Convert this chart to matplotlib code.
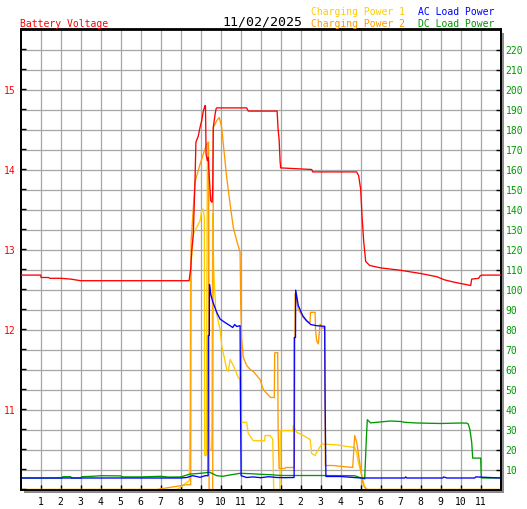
import numpy as np
import matplotlib
matplotlib.use('Agg')
import matplotlib.pyplot as plt
from matplotlib.patches import Rectangle

# ---------------- data (hours of day) ----------------
volt_t = [0, 1.0, 1.02, 1.4, 1.45, 2.0, 2.5, 3.0, 8.42, 8.5, 8.55, 8.63, 8.72, 8.76, 8.88,
          8.97, 9.05, 9.13, 9.22, 9.24, 9.27, 9.33, 9.38, 9.43, 9.5, 9.57, 9.6, 9.63, 9.72,
          9.77, 9.8, 11.3, 11.38, 12.82, 12.87, 12.92, 12.97, 13.0, 14.55, 14.6, 16.8, 16.9,
          17.0, 17.07, 17.15, 17.25, 17.45, 18.0, 19.0, 20.0, 20.8, 21.2, 21.7, 22.3, 22.5,
          22.55, 22.9, 22.97, 23.05, 24.0]
volt_v = [12.68, 12.68, 12.65, 12.65, 12.64, 12.64, 12.63, 12.61, 12.61, 12.76, 12.98, 13.19,
          13.9, 14.34, 14.42, 14.53, 14.61, 14.73, 14.80, 14.78, 14.19, 14.11, 14.15, 13.9,
          13.61, 13.59, 13.75, 14.53, 14.69, 14.76, 14.77, 14.77, 14.73, 14.73, 14.5, 14.38,
          14.1, 14.02, 14.0, 13.97, 13.97, 13.92, 13.75, 13.4, 13.1, 12.85, 12.8, 12.77,
          12.74, 12.70, 12.66, 12.62, 12.59, 12.56, 12.55, 12.63, 12.64, 12.67, 12.68, 12.68]

cp1_t = [0, 7.8, 8.0, 8.2, 8.43, 8.47, 8.5, 8.63, 8.97, 9.05, 9.13, 9.18, 9.2, 9.28, 9.33,
         9.36, 9.4, 9.43, 9.46, 9.55, 9.6, 9.65, 9.75, 9.97, 10.05, 10.2, 10.3, 10.38, 10.47,
         10.63, 10.88, 10.97, 11.0, 11.3, 11.38, 11.63, 12.2, 12.22, 12.46, 12.6, 12.65,
         12.96, 12.98, 13.62, 13.63, 13.8, 14.13, 14.47, 14.55, 14.72, 14.88, 15.05, 15.8,
         16.7, 16.8, 16.88, 17.05, 17.21, 17.35, 24.0]
cp1_v = [0, 0, 1.2, 2.8, 4.4, 40, 110, 127.7, 134.4, 139.4, 140.2, 136, 17, 17, 160,
         173.6, 173.6, 30, 20, 20, 138, 110, 90, 80, 72, 65, 60, 59, 65,
         62, 56, 55, 33.6, 33.6, 28, 24.4, 24.4, 27, 27, 25.3, 0,
         0, 29.4, 29.4, 32, 28.6, 27, 25, 18, 17, 20, 22.75, 22.3,
         21, 18.6, 13.6, 7, 1, 0, 0]

cp2_t = [0, 6.8, 7.3, 7.8, 8.3, 8.5, 8.52, 8.72, 8.97, 9.13, 9.3, 9.38, 9.42, 9.6, 9.63,
         9.8, 9.93, 10.05, 10.13, 10.3, 10.47, 10.63, 10.8, 10.97, 11.0, 11.05, 11.13, 11.3,
         11.47, 11.63, 11.8, 11.97, 12.13, 12.3, 12.5, 12.68, 12.7, 12.85, 12.87, 12.92,
         13.2, 13.25, 13.68, 13.72, 13.88, 14.13, 14.3, 14.47, 14.49, 14.72, 14.74, 14.8,
         14.88, 14.97, 15.13, 15.2, 15.23, 15.6, 16.6, 16.7, 16.8, 16.97, 17.13, 17.3, 24.0]
cp2_v = [0, 0, 0.8, 1.6, 2.4, 2.4, 124, 154, 162.7, 167.7, 172.7, 173.6, 0, 0, 181,
         184.4, 186, 181, 172.7, 156, 142.7, 131, 124.4, 118.6, 93, 75, 66, 62,
         60, 59, 57, 55, 50, 48, 46, 46, 68.3, 68.5, 30, 10.5,
         10.5, 11, 11, 98, 90, 86, 84, 83.5, 88.6, 88.6, 80, 74.4,
         72.8, 82.7, 80.5, 81.5, 12, 12, 11, 27, 23.6, 12, 2, 0, 0]

ac_t = [0, 8.0, 8.3, 8.6, 8.97, 9.22, 9.37, 9.38, 9.43, 9.44, 9.5, 9.6, 9.8, 9.97, 10.2,
        10.47, 10.6, 10.7, 10.8, 10.97, 10.99, 11.02, 11.3, 11.6, 12.0, 12.4, 12.8, 13.2,
        13.67, 13.68, 13.74, 13.75, 13.88, 14.1, 14.3, 14.5, 14.8, 15.2, 15.22, 15.26,
        16.0, 17.0, 19.2, 19.25, 19.3, 21.1, 21.15, 21.3, 22.7, 22.75, 24.0]
ac_v = [5.75, 5.75, 6.0, 6.9, 6.1, 6.9, 6.9, 77, 77, 102.5, 97.7, 94, 88.6, 85.2, 83.6,
        81.9, 81, 82.5, 81.5, 81.9, 44, 6.9, 6.0, 6.3, 5.9, 6.4, 6.0, 5.9,
        6.0, 76, 76, 99.7, 92, 86.9, 84.4, 82.5, 81.9, 81.6, 44.4, 6.5,
        6.5, 5.75, 5.75, 6.3, 5.75, 5.75, 6.3, 5.75, 5.75, 6.3, 5.75]

dc_t = [0, 2.05, 2.1, 2.5, 2.55, 3.0, 3.05, 3.6, 4.0, 5.0, 5.1, 6.0, 7.0, 7.4, 8.0, 8.4,
        8.5, 9.0, 9.45, 9.63, 9.8, 10.1, 10.45, 10.97, 11.5, 12.0, 12.5, 13.0, 15.0, 16.7,
        17.1, 17.2, 17.28, 17.33, 17.5, 18.0, 18.5, 19.0, 19.2, 19.8, 21.0, 22.0, 22.3,
        22.38, 22.46, 22.55, 22.6, 23.0, 23.03, 24.0]
dc_v = [5.75, 5.75, 6.4, 6.4, 5.75, 5.75, 6.4, 6.6, 6.9, 6.8, 6.3, 6.3, 6.6, 6.2, 6.3, 7.5,
        7.75, 8.1, 8.6, 7.75, 6.9, 6.6, 7.25, 8.1, 7.9, 7.6, 7.4, 7.0, 7.0, 6.9,
        5.5, 5.3, 25, 34.9, 33.3, 33.8, 34.25, 34.0, 33.6, 33.25, 33.0, 33.25, 33.2,
        32.7, 30, 23.6, 15.7, 15.7, 5.75, 5.75]

hour_labels = ['1', '2', '3', '4', '5', '6', '7', '8', '9', '10', '11', '12',
               '1', '2', '3', '4', '5', '6', '7', '8', '9', '10', '11']
volt_ticks = [11, 12, 13, 14, 15]
power_ticks = list(range(10, 230, 10))
date_text = '11/02/2025'

# ---------------- figure ----------------
W, H = 527, 510
fig = plt.figure(figsize=(W / 100, H / 100), dpi=100)
fig.patch.set_facecolor('white')
L, R, T, B = 20.7, 500.7, 30.5, 490.5
pos = [L / W, 1 - B / H, (R - L) / W, (B - T) / H]

# drop shadow
fig.patches.append(Rectangle(((L + 3) / W, 1 - (B + 3) / H), (R - L) / W, (B - T) / H,
                             transform=fig.transFigure, facecolor='#8c8c8c',
                             edgecolor='none', zorder=-5))

mono = 'DejaVu Sans Mono'
RED, GOLD, ORANGE, BLUE, GREEN = '#FF0000', '#FFCC00', '#FF9900', '#0000FF', '#009900'

ax = fig.add_axes(pos)
ax2 = ax.twinx()

ax.set_facecolor('white')
ax.set_xlim(0, 24)
ax.set_ylim(0, 230)
ax.set_xticks(range(1, 24))
ax.set_xticklabels(hour_labels, family=mono, fontsize=7)
ax.set_yticks(power_ticks)
ax.set_yticklabels([str(v) for v in power_ticks], family=mono, fontsize=7)
ax.yaxis.set_ticks_position('right')
ax.yaxis.set_label_position('right')
ax.tick_params(axis='x', direction='in', length=3.5, width=1, color='black',
               labelcolor='black', pad=5)
ax.tick_params(axis='y', which='both', direction='in', length=3.5, width=1, color='black',
               labelcolor=GREEN, pad=3.5, left=False, labelleft=False,
               right=True, labelright=True)
ax.grid(True, color='#A6A6A6', lw=0.9)
ax.set_axisbelow(True)
for s in ax.spines.values():
    s.set_color('black')
    s.set_linewidth(1.3)

lw = 0.95
ax.plot(cp1_t, cp1_v, color=GOLD, lw=lw, zorder=2)
ax.plot(cp2_t, cp2_v, color=ORANGE, lw=lw, zorder=3)
ax.plot(dc_t, dc_v, color=GREEN, lw=lw, zorder=4)
ax.plot(ac_t, ac_v, color=BLUE, lw=lw, zorder=5)

ax2.set_ylim(10, 15.75)
vt = np.arange(10, 15.76, 0.25)
ax2.set_yticks(vt)
ax2.set_yticklabels([('%d' % v if (abs(v - round(v)) < 1e-6 and round(v) in volt_ticks) else '')
                     for v in vt], family=mono, fontsize=7)
ax2.yaxis.set_ticks_position('left')
ax2.tick_params(axis='y', direction='in', length=3.5, width=1, color='black',
                labelcolor=RED, pad=4, left=True, labelleft=True,
                right=False, labelright=False)
for s in ax2.spines.values():
    s.set_color('black')
    s.set_linewidth(1.3)
ax2.plot(volt_t, volt_v, color=RED, lw=lw, zorder=6)

# ---------------- header texts ----------------
def ftext(x, y, s, color, size=7):
    fig.text(x / W, 1 - y / H, s, color=color, fontsize=size, family=mono,
             ha='left', va='baseline')

ftext(20, 27, 'Battery Voltage', RED)
ftext(222, 25.7, date_text, 'black', 9.5)
ftext(311, 15.3, 'Charging Power 1', GOLD)
ftext(311, 27, 'Charging Power 2', ORANGE)
ftext(418, 15.3, 'AC Load Power', BLUE)
ftext(418, 27, 'DC Load Power', GREEN)

fig.savefig('out.png', dpi=100)
